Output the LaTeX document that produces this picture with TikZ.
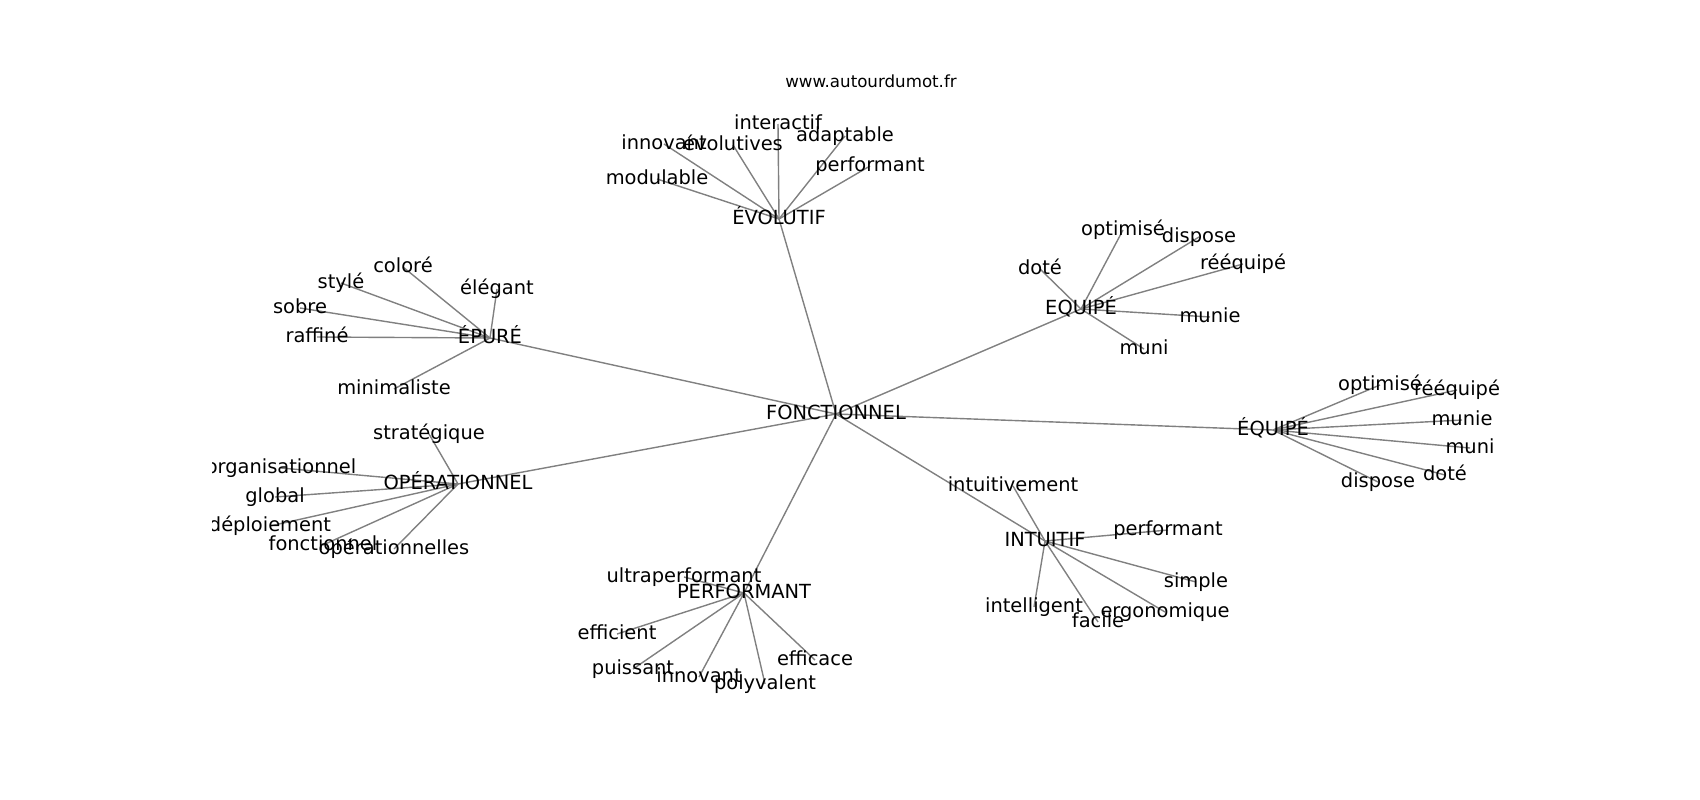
\documentclass[tikz,border=0pt]{standalone}
\usepackage{fontspec}
\setmainfont{DejaVu Sans}
\definecolor{edgegray}{HTML}{808080}
\pgfdeclarelayer{bg}
\pgfsetlayers{bg,main}
\begin{document}
\begin{tikzpicture}[x=1pt,y=-1pt,
  lbl/.style={inner sep=0pt, font=\fontsize{19.44}{23}\selectfont, text height=14.8pt, text depth=4.7pt},
  link/.style={draw=edgegray, line width=1.4pt},
  url/.style={inner sep=0pt, anchor=base, font=\fontsize{16.67}{20}\selectfont}]
\useasboundingbox (0,0) rectangle (1700,800);
\node[url] (site) at (871,88) {www.autourdumot.fr};
\begin{scope}
\clip (212.5,0) rectangle (1700,800);
% hubs
\node[lbl] (fon) at (836,414) {FONCTIONNEL};
\node[lbl] (evo) at (779,219) {ÉVOLUTIF};
\node[lbl] (epu) at (490,338) {ÉPURÉ};
\node[lbl] (ope) at (458,484) {OPÉRATIONNEL};
\node[lbl] (per) at (744,593) {PERFORMANT};
\node[lbl] (eqa) at (1081,309) {EQUIPÉ};
\node[lbl] (eqb) at (1273,430) {ÉQUIPÉ};
\node[lbl] (int) at (1045,541) {INTUITIF};
% ÉVOLUTIF
\node[lbl] (interactif) at (778,124) {interactif};
\node[lbl] (innovantA) at (664,144) {innovant};
\node[lbl] (evolutives) at (733,145) {évolutives};
\node[lbl] (adaptable) at (845,136) {adaptable};
\node[lbl] (performantA) at (870,166) {performant};
\node[lbl] (modulable) at (657,179) {modulable};
% ÉPURÉ
\node[lbl] (colore) at (403,267) {coloré};
\node[lbl] (style) at (341,283) {stylé};
\node[lbl] (elegant) at (497,289) {élégant};
\node[lbl] (sobre) at (300,308) {sobre};
\node[lbl] (raffine) at (317,337) {raffiné};
\node[lbl] (minimaliste) at (394,389) {minimaliste};
% OPÉRATIONNEL
\node[lbl] (strategique) at (429,434) {stratégique};
\node[lbl] (organisationnel) at (281,468) {organisationnel};
\node[lbl] (global) at (275,497) {global};
\node[lbl] (deploiement) at (270,526) {déploiement};
\node[lbl] (fonctionnel) at (323,545) {fonctionnel};
\node[lbl] (operationnelles) at (394,549) {opérationnelles};
% PERFORMANT
\node[lbl] (ultraperformant) at (684,577) {ultraperformant};
\node[lbl] (efficient) at (617,634) {efficient};
\node[lbl] (puissant) at (633,669) {puissant};
\node[lbl] (innovantB) at (699,677) {innovant};
\node[lbl] (polyvalent) at (765,684) {polyvalent};
\node[lbl] (efficace) at (815,660) {efficace};
% EQUIPÉ
\node[lbl] (optimiseA) at (1123,230) {optimisé};
\node[lbl] (disposeA) at (1199,237) {dispose};
\node[lbl] (reequipeA) at (1243,264) {rééquipé};
\node[lbl] (doteA) at (1040,269) {doté};
\node[lbl] (munieA) at (1210,317) {munie};
\node[lbl] (muniA) at (1144,349) {muni};
% ÉQUIPÉ
\node[lbl] (optimiseB) at (1380,385) {optimisé};
\node[lbl] (reequipeB) at (1457,390) {rééquipé};
\node[lbl] (munieB) at (1462,420) {munie};
\node[lbl] (muniB) at (1470,448) {muni};
\node[lbl] (doteB) at (1445,475) {doté};
\node[lbl] (disposeB) at (1378,482) {dispose};
% INTUITIF
\node[lbl] (intuitivement) at (1013,486) {intuitivement};
\node[lbl] (performantB) at (1168,530) {performant};
\node[lbl] (simple) at (1196,582) {simple};
\node[lbl] (intelligent) at (1034,607) {intelligent};
\node[lbl] (facile) at (1098,622) {facile};
\node[lbl] (ergonomique) at (1165,612) {ergonomique};
\end{scope}
\begin{pgfonlayer}{bg}
\foreach \h in {evo,epu,ope,per,eqa,eqb,int}
  \draw[link] (fon.center) -- (\h.center);
\foreach \l in {interactif,innovantA,evolutives,adaptable,performantA,modulable}
  \draw[link] (evo.center) -- (\l.center);
\foreach \l in {colore,style,elegant,sobre,raffine,minimaliste}
  \draw[link] (epu.center) -- (\l.center);
\foreach \l in {strategique,organisationnel,global,deploiement,fonctionnel,operationnelles}
  \draw[link] (ope.center) -- (\l.center);
\foreach \l in {ultraperformant,efficient,puissant,innovantB,polyvalent,efficace}
  \draw[link] (per.center) -- (\l.center);
\foreach \l in {optimiseA,disposeA,reequipeA,doteA,munieA,muniA}
  \draw[link] (eqa.center) -- (\l.center);
\foreach \l in {optimiseB,reequipeB,munieB,muniB,doteB,disposeB}
  \draw[link] (eqb.center) -- (\l.center);
\foreach \l in {intuitivement,performantB,simple,intelligent,facile,ergonomique}
  \draw[link] (int.center) -- (\l.center);
\end{pgfonlayer}
\end{tikzpicture}
\end{document}
